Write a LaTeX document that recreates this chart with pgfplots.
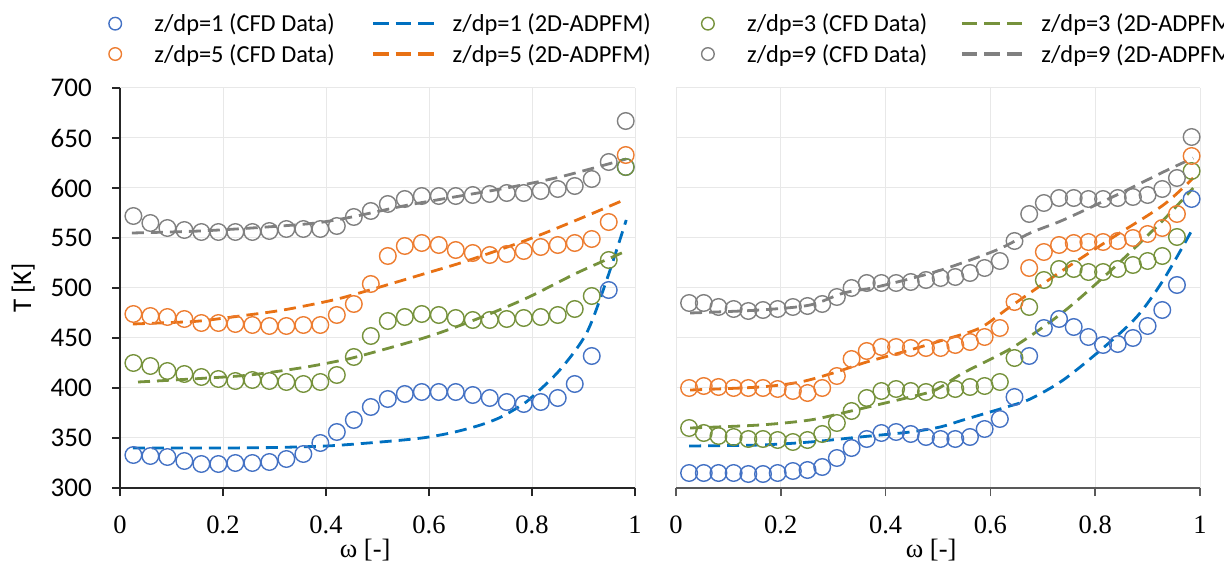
\documentclass[border=0pt]{standalone}
\usepackage{fontspec}
\setmainfont{Carlito}
\newfontfamily\serifnum{Liberation Serif}
\usepackage{pgfplots}
\usepackage{pgfplotstable}
\pgfplotsset{compat=1.18}
\definecolor{cblue}{RGB}{68,114,196}
\definecolor{dblue}{RGB}{0,112,192}
\definecolor{corange}{RGB}{237,125,49}
\definecolor{dorange}{RGB}{232,113,20}
\definecolor{cgreen}{RGB}{118,146,60}
\definecolor{cgray}{RGB}{128,128,128}

\pgfplotstableread{
w z1 z3 z5 z9
0.026 333 425 474 572
0.059 332 422 472 565
0.092 331 417 471 560
0.125 327 414 469 558
0.158 324 411 465 556
0.191 324 409 465 556
0.224 325 407 464 556
0.257 325 408 463 556
0.290 326 407 462 557
0.323 329 406 462 559
0.356 334 404 463 559
0.389 345 406 463 559
0.421 356 413 473 562
0.454 368 431 484 571
0.487 381 452 504 577
0.520 389 467 532 584
0.553 394 471 542 589
0.586 396 474 545 592
0.619 396 473 543 592
0.652 396 470 538 592
0.685 393 468 535 593
0.718 390 468 533 594
0.751 386 469 534 595
0.784 384 470 537 595
0.817 386 471 541 597
0.850 390 473 543 599
0.883 404 479 545 602
0.916 432 492 549 609
0.949 498 528 566 626
0.982 621 621 633 667
}\leftdata

\pgfplotstableread{
w z1 z3 z5 z9
0.025 315 360 400 485
0.053 315 355 402 485
0.081 315 352 401 481
0.110 315 351 400 479
0.138 314 349 400 477
0.166 314 349 400 478
0.194 315 348 399 479
0.223 317 346 397 481
0.251 318 348 395 482
0.279 321 354 400 484
0.307 330 365 412 491
0.335 340 377 429 500
0.364 349 390 437 505
0.392 355 397 441 505
0.420 356 399 441 505
0.448 354 397 440 506
0.477 351 396 440 508
0.505 349 398 440 510
0.533 349 399 443 511
0.561 351 401 446 515
0.589 359 402 451 520
0.618 369 406 460 527
0.646 391 430 486 547
0.674 432 481 520 574
0.702 460 508 536 585
0.731 469 519 543 590
0.759 461 519 545 590
0.787 451 516 546 589
0.815 443 516 546 589
0.843 444 519 547 590
0.872 450 523 550 591
0.900 462 527 554 593
0.928 478 532 560 599
0.956 503 551 574 610
0.984 589 617 632 651
}\rightdata

\pgfplotsset{
  cfd/.style={only marks, mark=o, mark size=8.3pt, mark options={line width=1.4pt},
    legend image code/.code={\path (0pt,0pt) (61pt,0pt); \draw[##1, mark size=6.3pt] plot coordinates {(30.5pt,0pt)};}},
  model/.style={no marks, smooth, line width=2.8pt, dash pattern=on 12pt off 7pt,
    legend image code/.code={\draw[##1, dash pattern=on 15.6pt off 6.9pt, line width=3.3pt] (0pt,0pt) -- (61pt,0pt);}},
  common/.style={
    scale only axis, anchor=south west,
    height=400pt,
    xmin=0, xmax=1, ymin=300, ymax=700,
    xtick={0,0.2,0.4,0.6,0.8,1}, ytick={300,350,...,700},
    grid=major, major grid style={draw=black!9, line width=1pt},
    tick align=outside, major tick length=8pt,
    /pgf/number format/assume math mode=true,
    clip=false,
    axis x line*=bottom, axis y line*=left,
    xticklabel style={font=\serifnum\fontsize{26.5}{30}\selectfont, inner sep=0pt, yshift=-20pt},
    yticklabel style={font=\fontsize{27}{30}\selectfont, inner sep=0pt, xshift=-20pt},
    every axis x label/.style={anchor=center, font=\serifnum\fontsize{26.5}{30}\selectfont},
  },
}
\newcommand{\lent}[3]{\makebox[#1][l]{\hspace*{#2}#3}}

\begin{document}
\begin{tikzpicture}
\useasboundingbox (0pt,0pt) rectangle (1224pt,568pt);
% left panel
\begin{axis}[common, at={(120pt,80pt)}, width=515pt,
  axis line style={draw=black!85, line width=1.5pt, -},
  major tick style={draw=black!85, line width=1.5pt},
  every axis x label/.append style={at={(axis description cs:0.476,-0.155)}},
  xlabel={ω [-]},
  ylabel={T [K]},
  every axis y label/.style={at={(axis description cs:-0.188,0.5)}, rotate=90, anchor=center, font=\fontsize{27}{30}\selectfont},
  legend columns=4, legend cell align=left,
  legend style={at={(axis description cs:-0.0689,1.185)}, anchor=north west, draw=none, fill=none,
    inner sep=0pt, outer sep=0pt, row sep=11pt,
    font=\fontsize{24.4}{28}\selectfont,
    nodes={inner sep=0pt, anchor=west}},
]
\addplot[cfd, cblue] table[x=w, y=z1] {\leftdata};
\addlegendentry{\lent{225.5pt}{8.5pt}{z/dp=1 (CFD Data)}}
\addplot[model, dblue] coordinates {(0.025,340)(0.1,340)(0.2,340)(0.3,340.5)(0.4,342)(0.47,344.5)(0.55,348)(0.6,351)(0.65,356)(0.7,363)(0.74,371)(0.78,383)(0.8,391)(0.854,418)(0.906,455)(0.945,508)(0.983,568)};
\addlegendentry{\lent{241.5pt}{17pt}{z/dp=1 (2D-ADPFM)}}
\addplot[cfd, cgreen] table[x=w, y=z3] {\leftdata};
\addlegendentry{\lent{221.5pt}{8.5pt}{z/dp=3 (CFD Data)}}
\addplot[model, cgreen] coordinates {(0.035,406)(0.155,409.5)(0.252,413)(0.35,420)(0.414,426)(0.466,432)(0.596,451)(0.693,469)(0.79,490)(0.887,515)(0.983,537)};
\addlegendentry{\hspace*{17pt}z/dp=3 (2D-ADPFM)}
\addplot[cfd, corange] table[x=w, y=z5] {\leftdata};
\addlegendentry{\lent{225.5pt}{8.5pt}{z/dp=5 (CFD Data)}}
\addplot[model, dorange] coordinates {(0.025,464)(0.1,465.5)(0.155,467)(0.233,472)(0.317,478)(0.414,488)(0.485,498)(0.596,515)(0.673,527)(0.79,548)(0.887,568)(0.983,589)};
\addlegendentry{\lent{241.5pt}{17pt}{z/dp=5 (2D-ADPFM)}}
\addplot[cfd, cgray] table[x=w, y=z9] {\leftdata};
\addlegendentry{\lent{221.5pt}{8.5pt}{z/dp=9 (CFD Data)}}
\addplot[model, cgray] coordinates {(0.023,555)(0.155,557)(0.285,561)(0.38,565)(0.45,571)(0.55,582)(0.615,588)(0.75,600)(0.854,611)(0.983,629)};
\addlegendentry{\hspace*{17pt}z/dp=9 (2D-ADPFM)}
\end{axis}
% right panel
\begin{axis}[common, at={(676pt,80pt)}, width=524pt,
  x axis line style={draw=black!65, line width=1.5pt, -},
  y axis line style={draw=none},
  major x tick style={draw=black!65, line width=1.5pt},
  major y tick style={draw=none},
  yticklabels={},
  every axis x label/.append style={at={(axis description cs:0.487,-0.155)}},
  xlabel={ω [-]},
]
\addplot[cfd, cblue] table[x=w, y=z1] {\rightdata};
\addplot[model, dblue] coordinates {(0.025,342)(0.16,343)(0.256,346)(0.351,351)(0.447,356)(0.504,361)(0.548,368)(0.631,381)(0.676,389)(0.739,408)(0.815,440)(0.879,471)(0.93,508)(0.987,560)};
\addplot[cfd, cgreen] table[x=w, y=z3] {\rightdata};
\addplot[model, cgreen] coordinates {(0.027,360)(0.16,363)(0.256,368)(0.326,376)(0.383,383)(0.447,391)(0.495,398)(0.548,415)(0.644,441)(0.739,476)(0.835,520)(0.93,568)(0.987,600)};
\addplot[cfd, corange] table[x=w, y=z5] {\rightdata};
\addplot[model, dorange] coordinates {(0.027,398)(0.16,401)(0.237,406)(0.3,415)(0.364,426)(0.44,437)(0.51,448)(0.58,460)(0.637,481)(0.739,518)(0.835,551)(0.93,583)(0.987,610)};
\addplot[cfd, cgray] table[x=w, y=z9] {\rightdata};
\addplot[model, cgray] coordinates {(0.027,475)(0.16,478)(0.256,483)(0.32,495)(0.383,501)(0.5,517)(0.612,538)(0.676,555)(0.739,568)(0.841,593)(0.93,616)(0.987,630)};
\end{axis}
\end{tikzpicture}
\end{document}
